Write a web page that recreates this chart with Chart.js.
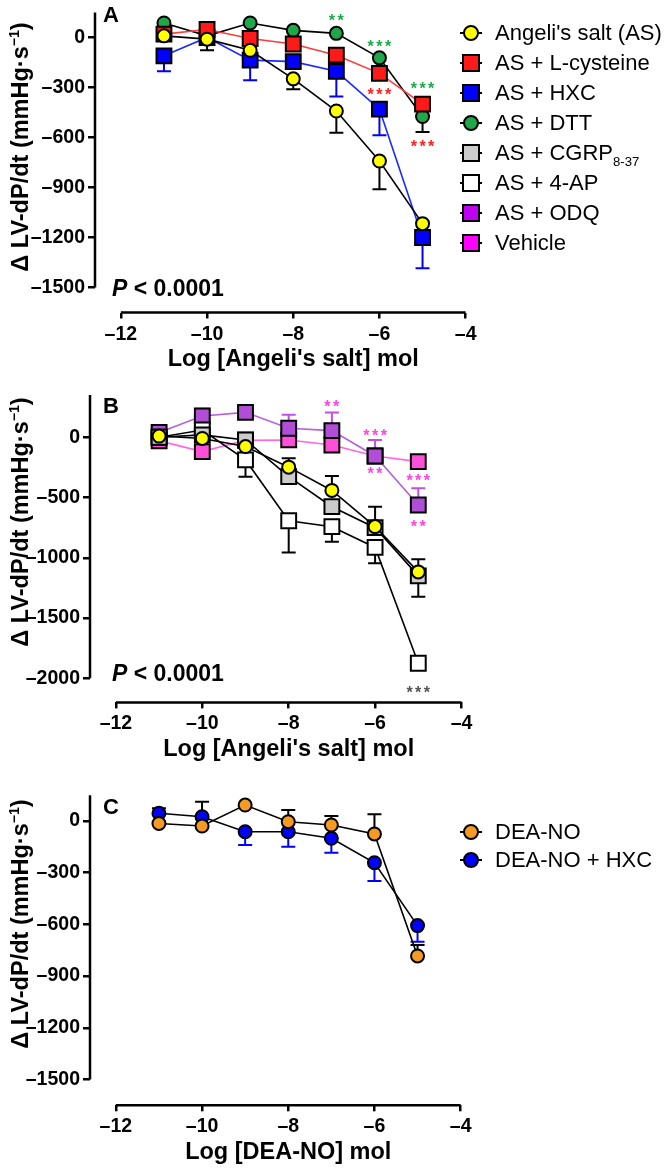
<!DOCTYPE html>
<html>
<head>
<meta charset="utf-8">
<script src="https://cdn.jsdelivr.net/npm/chart.js@4.4.0/dist/chart.umd.min.js"></script>
<style>
body { margin: 0; background: #fff; font-family: "Liberation Sans", Arial, sans-serif; color: #000; }
#wrap { position: relative; width: 670px; height: 1170px; overflow: hidden; }
canvas { position: absolute; left: 0; }
.letter { position: absolute; font-weight: bold; font-size: 22px; line-height: 1; }
.pval { position: absolute; left: 112px; font-weight: bold; font-size: 23px; line-height: 1; white-space: nowrap; }
.ytitle { position: absolute; left: 20px; font-weight: bold; font-size: 23.5px; white-space: nowrap;
  transform: translate(-50%, -50%) rotate(-90deg); }
.ytitle sup { font-size: 0.6em; }
.legend { position: absolute; left: 460px; font-size: 22px; }
.legend > div { display: flex; align-items: center; white-space: nowrap; }
.legend .sb { font-size: 0.6em; position: relative; top: 6px; }
.mk { position: relative; width: 22px; height: 18px; margin-right: 13px; flex: none; }
.mk:before { content: ""; position: absolute; left: 0; right: 0; top: 8px; height: 2px; background: #000; }
.mk i { position: absolute; border: 2px solid #000; }
.mk i.c { left: 3px; top: 1px; width: 12px; height: 12px; border-radius: 50%; }
.mk i.s { left: 2px; top: 0px; width: 14px; height: 14px; }
</style>
</head>
<body>
<div id="wrap">
  <canvas id="chartA" width="670" height="374" style="top:0"></canvas>
  <canvas id="chartB" width="670" height="390" style="top:374px"></canvas>
  <canvas id="chartC" width="670" height="403" style="top:764px"></canvas>

  <div class="letter" style="left:103px;top:4px">A</div>
  <div class="letter" style="left:103px;top:395px">B</div>
  <div class="letter" style="left:103px;top:796px">C</div>

  <div class="pval" style="top:277px"><i>P</i> &lt; 0.0001</div>
  <div class="pval" style="top:662px"><i>P</i> &lt; 0.0001</div>

  <div class="ytitle" style="top:147px">&Delta; LV-dP/dt (mmHg&middot;s<sup>&minus;1</sup>)</div>
  <div class="ytitle" style="top:522px">&Delta; LV-dP/dt (mmHg&middot;s<sup>&minus;1</sup>)</div>
  <div class="ytitle" style="top:924px">&Delta; LV-dP/dt (mmHg&middot;s<sup>&minus;1</sup>)</div>

  <div class="legend" id="legendA" style="top:18px"></div>
  <div class="legend" id="legendC" style="top:818px"></div>
</div>

<script>
// doses (log mol) shared by all panels
const doses = [-11, -10, -9, -8, -7, -6, -5];
const xTicks = [-12, -10, -8, -6, -4];
const yTicksA = [0, -300, -600, -900, -1200, -1500];
const yTicksB = [0, -500, -1000, -1500, -2000];
const yTicksC = [0, -300, -600, -900, -1200, -1500];

// panel A
const angeli = [10, -10, -77, -248, -441, -741, -1117];
const angeliErrA = [0, -67, 0, -62, -130, -169, 0];
const lCysteine = [20, 48, -6, -39, -106, -215, -400];
const hxc = [-110, 0, -136, -145, -203, -430, -1200];
const hxcErr = [-93, 0, -121, 0, -151, -157, -184];
const dtt = [87, 10, 87, 43, 25, -122, -474];
const dttErr = [0, 0, 0, 0, 0, 0, -93];

// panel B
const angeliErrB = [0, 0, 0, 75, 120, 165, 105];
const cgrp = [0, 20, -22, -327, -576, -750, -1150];
const cgrpErr = [0, 0, 0, 0, 0, 0, -173];
const ap4 = [0, 60, -188, -693, -742, -914, -1875];
const ap4Err = [0, 0, -139, -263, -125, -132, 0];
const odq = [40, 177, 207, 75, 55, -155, -562];
const odqErr = [0, 60, 60, 111, 150, 133, 139];
const vehicle = [-30, -119, -25, -22, -64, -155, -202];

// panel C
const deaNo = [-14, -29, 93, -4, -23, -75, -783];
const deaNoErr = [88, 141, 0, 68, 52, 114, 63];
const deaNoHxc = [45, 25, -62, -62, -100, -242, -607];
const deaNoHxcErr = [0, 0, -77, -87, -84, -106, -93];

// significance marks: dose, value they sit at, text
const starsA = [
  [-7, 124, '**', '#1ea84a'], [-6, -27, '***', '#1ea84a'], [-6, -318, '***', '#ff2020'],
  [-5, -283, '***', '#1ea84a'], [-5, -631, '***', '#ff2020']
];
const starsB = [
  [-7, 285, '**', '#ff44dd'], [-6, 46, '***', '#ff44dd'], [-6, -271, '**', '#ff44dd'],
  [-5, -327, '***', '#ff44dd'], [-5, -711, '**', '#ff44dd'], [-5, -2088, '***', '#555']
];

const YELLOW = '#ffff00', RED = '#ff1a1a', BLUE = '#0000ff', GREEN = '#1ea84a';
const GREY = '#cccccc', WHITE = '#ffffff', PURPLE = '#b04ed6', PINK = '#ff4fd8', ORANGE = '#f59a23';

Chart.defaults.font.family = '"Liberation Sans", Arial, sans-serif';
Chart.defaults.color = '#000';

const axisLines = {
  id: 'axisLines',
  afterDraw(chart, args, o) {
    const {ctx, chartArea: a, scales: {x, y}} = chart;
    ctx.save();
    ctx.strokeStyle = '#000';
    ctx.lineWidth = 2.5;
    ctx.beginPath();
    ctx.moveTo(a.left, y.getPixelForValue(y.max));
    ctx.lineTo(a.left, y.getPixelForValue(o.yEnd));
    ctx.moveTo(x.getPixelForValue(o.xStart), a.bottom);
    ctx.lineTo(x.getPixelForValue(o.xEnd), a.bottom);
    ctx.stroke();
    ctx.restore();
  }
};

const errorBars = {
  id: 'errorBars',
  beforeDatasetsDraw(chart) {
    const {ctx, scales: {x, y}} = chart;
    chart.data.datasets.forEach(ds => {
      if (!ds.err) return;
      ctx.save();
      ctx.strokeStyle = ds.errColor;
      ctx.lineWidth = 2;
      ds.data.forEach((p, i) => {
        const e = ds.err[i];
        if (!e) return;
        const px = x.getPixelForValue(p.x);
        const y0 = y.getPixelForValue(p.y), y1 = y.getPixelForValue(p.y + e);
        ctx.beginPath();
        ctx.moveTo(px, y0); ctx.lineTo(px, y1);
        ctx.moveTo(px - 7, y1); ctx.lineTo(px + 7, y1);
        ctx.stroke();
      });
      ctx.restore();
    });
  }
};

const starText = {
  id: 'starText',
  afterDatasetsDraw(chart, args, o) {
    if (!o.list) return;
    const {ctx, scales: {x, y}} = chart;
    ctx.save();
    ctx.font = 'bold 16px "Liberation Sans", Arial, sans-serif';
    ctx.letterSpacing = '2.5px';
    ctx.textAlign = 'center';
    ctx.textBaseline = 'alphabetic';
    o.list.forEach(s => {
      ctx.fillStyle = s[3];
      ctx.fillText(s[2], x.getPixelForValue(s[0]) + 1.2, y.getPixelForValue(s[1]) + 9.5);
    });
    ctx.restore();
  }
};

function series(values, fill, shape, line, err, errColor) {
  return {
    data: doses.map((d, i) => ({x: d, y: values[i]})),
    borderColor: line, borderWidth: 1.6, tension: 0,
    pointStyle: shape, pointRadius: shape === 'rect' ? 10.5 : 6.5,
    pointBackgroundColor: fill, pointBorderColor: '#000', pointBorderWidth: 2,
    err: err, errColor: errColor || '#000', clip: false
  };
}

function panel(id, p) {
  const dash = v => String(v).replace('-', '\u2013');
  return new Chart(document.getElementById(id), {
    type: 'line',
    data: {datasets: p.datasets},
    options: {
      responsive: false, animation: false, events: [],
      layout: {padding: {left: 0, top: p.top, right: 670 - p.right, bottom: 0}},
      plugins: {
        legend: {display: false}, tooltip: {enabled: false},
        axisLines: {yEnd: p.yTicks[p.yTicks.length - 1], xStart: -12, xEnd: -4},
        starText: {list: p.stars}
      },
      scales: {
        x: {
          type: 'linear', min: -12.6, max: -3.4,
          afterBuildTicks: s => { s.ticks = xTicks.map(v => ({value: v})); },
          afterFit: s => { s.height = p.xHeight; s.paddingLeft = 0; s.paddingRight = 0; },
          border: {display: false},
          grid: {drawOnChartArea: false, drawTicks: true, tickLength: 6, lineWidth: 2.5, color: '#000'},
          ticks: {autoSkip: false, maxRotation: 0, padding: 4, font: {size: 19.5, weight: 'bold'}, callback: dash},
          title: {display: true, text: p.xTitle, font: {size: 23.5, weight: 'bold'}, padding: {top: 0, bottom: 0}}
        },
        y: {
          min: p.yMin, max: p.yMax,
          afterBuildTicks: s => { s.ticks = p.yTicks.map(v => ({value: v})); },
          afterFit: s => { s.width = p.left; s.paddingTop = 0; s.paddingBottom = 0; },
          border: {display: false},
          grid: {drawOnChartArea: false, drawTicks: true, tickLength: 7, lineWidth: 2.5, color: '#000'},
          ticks: {autoSkip: false, padding: 3, font: {size: 19.5, weight: 'bold'}, callback: dash}
        }
      }
    },
    plugins: [axisLines, errorBars, starText]
  });
}

panel('chartA', {
  left: 95, right: 491.5, top: 2.5, xHeight: 61.5,
  yMin: -1650, yMax: 150, yTicks: yTicksA, stars: starsA,
  xTitle: "Log [Angeli's salt] mol",
  datasets: [
    series(angeli, YELLOW, 'circle', '#000', angeliErrA),
    series(lCysteine, RED, 'rect', '#ff3b3b'),
    series(hxc, BLUE, 'rect', '#1a2bff', hxcErr, BLUE),
    series(dtt, GREEN, 'circle', '#000', dttErr)
  ]
});

panel('chartB', {
  left: 90, right: 487.4, top: 21.1, xHeight: 61.6,
  yMin: -2200, yMax: 350, yTicks: yTicksB, stars: starsB,
  xTitle: "Log [Angeli's salt] mol",
  datasets: [
    series(angeli, YELLOW, 'circle', '#000', angeliErrB),
    series(cgrp, GREY, 'rect', '#000', cgrpErr),
    series(ap4, WHITE, 'rect', '#000', ap4Err),
    series(odq, PURPLE, 'rect', '#b460e0', odqErr, '#c050e8'),
    series(vehicle, PINK, 'rect', '#ff66e0')
  ]
});

panel('chartC', {
  left: 90, right: 486.5, top: 31.2, xHeight: 61.7,
  yMin: -1650, yMax: 150, yTicks: yTicksC, stars: [],
  xTitle: 'Log [DEA-NO] mol',
  datasets: [
    series(deaNo, ORANGE, 'circle', '#000', deaNoErr),
    series(deaNoHxc, BLUE, 'circle', '#000', deaNoHxcErr, BLUE)
  ]
});

// legends
const legendA = [
  ["Angeli's salt (AS)", YELLOW, 'c'], ['AS + L-cysteine', RED, 's'], ['AS + HXC', BLUE, 's'],
  ['AS + DTT', GREEN, 'c'], ['AS + CGRP<span class="sb">8-37</span>', GREY, 's'], ['AS + 4-AP', WHITE, 's'],
  ['AS + ODQ', '#c000f0', 's'], ['Vehicle', '#ff00ff', 's']
];
const legendC = [['DEA-NO', ORANGE, 'c'], ['DEA-NO + HXC', BLUE, 'c']];

function fillLegend(id, items, rowH) {
  document.getElementById(id).innerHTML = items.map(it =>
    '<div style="height:' + rowH + 'px"><span class="mk"><i class="' + it[2] +
    '" style="background:' + it[1] + '"></i></span><span>' + it[0] + '</span></div>').join('');
}
fillLegend('legendA', legendA, 30);
fillLegend('legendC', legendC, 28);
</script>
</body>
</html>
